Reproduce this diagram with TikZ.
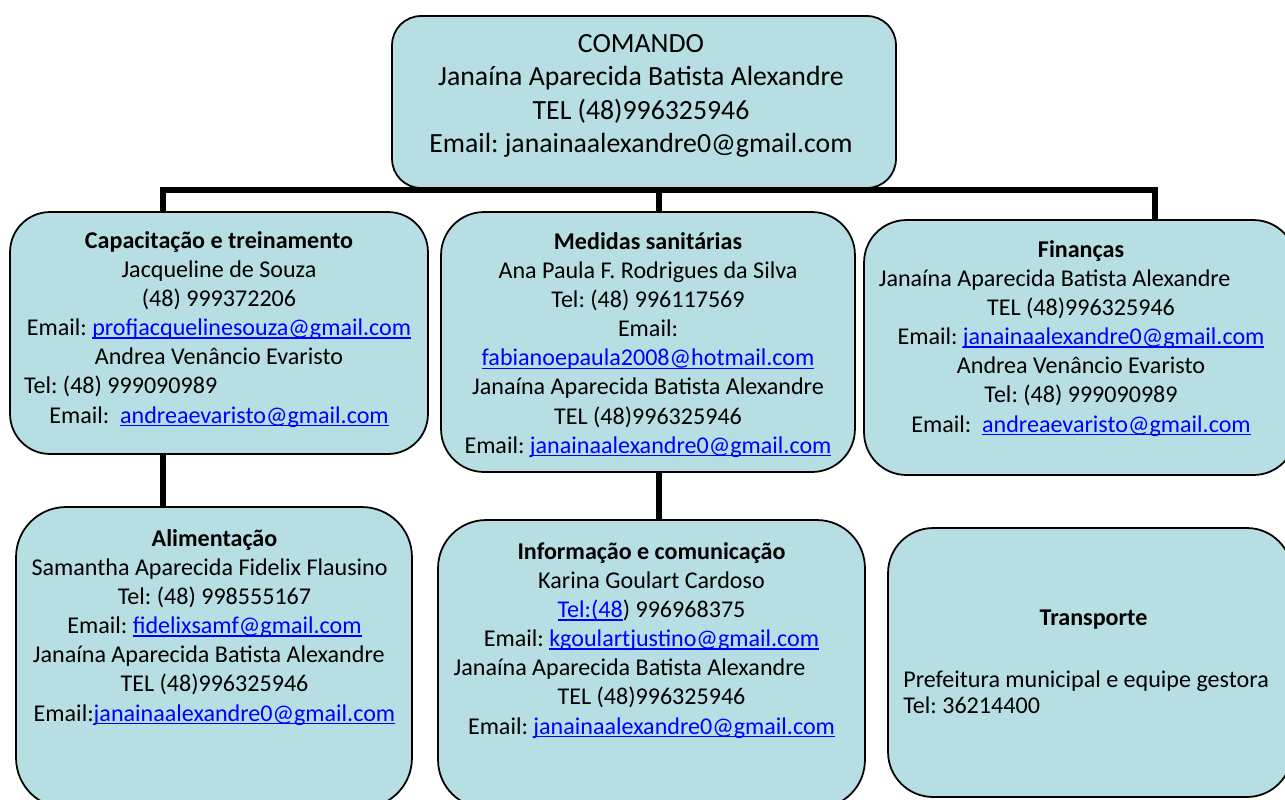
\documentclass[tikz,border=0pt]{standalone}
\usepackage{fontspec}
\setmainfont{Carlito}
\usepackage{tikz}
\frenchspacing
\definecolor{caixaazul}{RGB}{183,222,226}
\definecolor{linkazul}{RGB}{0,0,255}
\newsavebox{\lnkbox}
\newcommand{\lnk}[1]{\textcolor{linkazul}{\sbox{\lnkbox}{#1}\rlap{\rule[-1.8pt]{\wd\lnkbox}{0.75pt}}\usebox{\lnkbox}}}
\newcommand{\txtnormal}{\fontsize{13.7}{16.6}\selectfont}
\newcommand{\txtcomando}{\fontsize{15.8}{19.1}\selectfont}
\tikzstyle{caixa} = [rectangle, draw, line width=1pt, fill=caixaazul, inner sep=0pt]
\tikzstyle{texto} = [anchor=base, inner sep=0pt, text width=11cm, align=flush center, font=\txtnormal]
\tikzstyle{linha} = [draw, line width=3.4pt, color=black]

\begin{document}
\begin{tikzpicture}[x=0.02cm, y=-0.02cm]
		\useasboundingbox (0,0) rectangle (1285,799);
		\clip (0,0) rectangle (1285,799);
		% Caixas
		\node [caixa, minimum width=10.08cm, minimum height=3.44cm, rounded corners=0.58cm] (comando) at (644,102) {};
		\node [caixa, minimum width=8.36cm, minimum height=4.84cm, rounded corners=0.8cm] (capacitacao) at (219,333) {};
		\node [caixa, minimum width=8.28cm, minimum height=5.2cm, rounded corners=0.86cm] (medidas) at (648,342) {};
		\node [caixa, minimum width=8.64cm, minimum height=5.1cm, rounded corners=0.85cm] (financas) at (1080,347.5) {};
		\node [caixa, minimum width=7.92cm, minimum height=6.02cm, rounded corners=1cm] (alimentacao) at (214,657.5) {};
		\node [caixa, minimum width=8.54cm, minimum height=5.76cm, rounded corners=0.96cm] (informacao) at (651.5,664) {};
		\node [caixa, minimum width=8.08cm, minimum height=5.38cm, rounded corners=0.9cm] (transporte) at (1090,662.5) {};
		% Textos
		\node [texto, font=\txtcomando] (comando-txt) at (641,52) {COMANDO\\ Janaína Aparecida Batista Alexandre\\ TEL (48)996325946\\ Email: janainaalexandre0@gmail.com};
		\node [texto] (capacitacao-txt) at (219,248) {\textbf{Capacitação e treinamento}\\ Jacqueline de Souza\\ (48) 999372206\\ Email: \lnk{profjacquelinesouza@gmail.com}\\ Andrea Venâncio Evaristo\\ Tel: (48) 999090989\hspace*{112pt}\null\\ Email:~ \lnk{andreaevaristo@gmail.com}};
		\node [texto] (medidas-txt) at (648,249) {\textbf{Medidas sanitárias}\\ Ana Paula F. Rodrigues da Silva\\ Tel: (48) 996117569\\ Email:\\ \lnk{fabianoepaula2008@hotmail.com}\\ Janaína Aparecida Batista Alexandre\\ TEL (48)996325946\\ Email: \lnk{janainaalexandre0@gmail.com}};
		\node [texto] (financas-txt) at (1081,257) {\textbf{Finanças}\\ Janaína Aparecida Batista Alexandre\hspace*{30pt}\null\\ TEL (48)996325946\\ Email: \lnk{janainaalexandre0@gmail.com}\\ Andrea Venâncio Evaristo\\ Tel: (48) 999090989\\ Email:~ \lnk{andreaevaristo@gmail.com}};
		\node [texto] (alimentacao-txt) at (214.5,546) {\textbf{Alimentação}\\ Samantha Aparecida Fidelix Flausino\hspace*{5.5pt}\null\\ Tel: (48) 998555167\\ Email: \lnk{fidelixsamf@gmail.com}\\ Janaína Aparecida Batista Alexandre\hspace*{6.5pt}\null\\ TEL (48)996325946\\ Email:\lnk{janainaalexandre0@gmail.com}};
		\node [texto] (informacao-txt) at (651.5,559) {\textbf{Informação e comunicação}\\ Karina Goulart Cardoso\\ \lnk{Tel:(48}) 996968375\\ Email: \lnk{kgoulartjustino@gmail.com}\\ Janaína Aparecida Batista Alexandre\hspace*{25pt}\null\\ TEL (48)996325946\\ Email: \lnk{janainaalexandre0@gmail.com}};
		\node [texto] (transporte-tit) at (1093.5,625) {\textbf{Transporte}};
		\node [texto, anchor=base west, text width=8cm, align=flush left, font=\fontsize{13.7}{15.1}\selectfont] (transporte-txt) at (903,687) {Prefeitura municipal e equipe gestora\\ Tel: 36214400};
		% Ligacoes
		\coordinate (bE) at (163,190);
		\coordinate (bM) at (659,190);
		\coordinate (bD) at (1155,190);
		\path [linha] (bE |- capacitacao.north) -- (bE) -- (bD) -- (bD |- financas.north);
		\path [linha] (bM |- comando.south) -- (bM |- medidas.north);
		\path [linha] (bE |- capacitacao.south) -- (bE |- alimentacao.north);
		\path [linha] (bM |- medidas.south) -- (bM |- informacao.north);
	\end{tikzpicture}
\end{document}
